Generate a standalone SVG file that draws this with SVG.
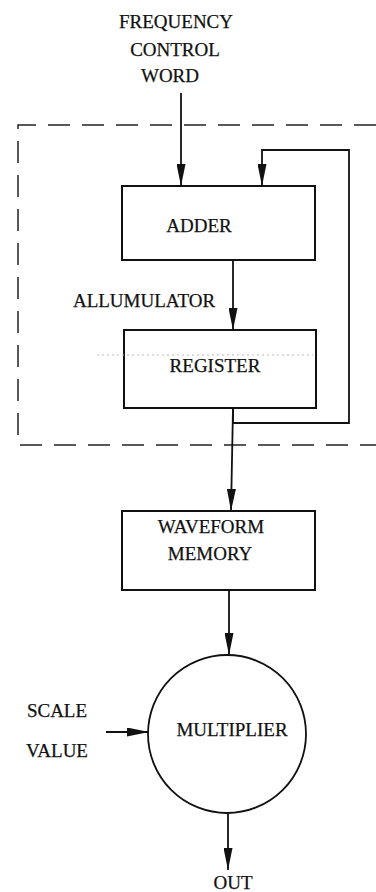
<svg xmlns="http://www.w3.org/2000/svg" width="376" height="892" viewBox="0 0 376 892">
<style>
text{font-family:"Liberation Serif","Times New Roman",serif;font-size:19px;fill:#111;text-anchor:middle;stroke:#111;stroke-width:0.25}
.box{fill:#fff;stroke:#111;stroke-width:2}
.ln{fill:none;stroke:#111;stroke-width:1.8}
.dash{fill:none;stroke:#222;stroke-width:1.5;stroke-dasharray:22 12}
</style>
<defs>
<marker id="ah" viewBox="0 0 22 9" refX="22" refY="4.5" markerWidth="22" markerHeight="9" markerUnits="userSpaceOnUse" orient="auto">
<path d="M0,0 L22,4.5 L0,9 Z" fill="#111"/>
</marker>
</defs>
<g id="labels">
<text x="176" y="28">FREQUENCY</text>
<text x="175" y="56">CONTROL</text>
<text x="170" y="82">WORD</text>
<text x="144" y="307">ALLUMULATOR</text>
<text x="57" y="717">SCALE</text>
<text x="57" y="757">VALUE</text>
<text x="233" y="889">OUT</text>
</g>
<g id="accumulator-boundary">
<path class="dash" d="M376,125 H18 V445 H376"/>
</g>
<g id="connectors">
<line class="ln" x1="181" y1="93" x2="181" y2="186" marker-end="url(#ah)"/>
<path class="ln" d="M233,408 V423 H349 V150 H262 V186" marker-end="url(#ah)"/>
<line class="ln" x1="233" y1="260" x2="233" y2="330" marker-end="url(#ah)"/>
<line class="ln" x1="233" y1="408" x2="231" y2="511" marker-end="url(#ah)"/>
<line class="ln" x1="229" y1="590" x2="229" y2="655" marker-end="url(#ah)"/>
<line class="ln" x1="106" y1="732" x2="149" y2="732" marker-end="url(#ah)"/>
<line class="ln" x1="228" y1="813" x2="228" y2="870" marker-end="url(#ah)"/>
</g>
<g id="adder">
<rect class="box" x="122" y="186" width="193" height="74"/>
<text x="199" y="232">ADDER</text>
</g>
<g id="register">
<rect class="box" x="124" y="330" width="192" height="78"/>
<line x1="97" y1="355" x2="313" y2="355" stroke="#bbb" stroke-width="1" stroke-dasharray="2 3"/>
<text x="215" y="372">REGISTER</text>
</g>
<g id="waveform-memory">
<rect class="box" x="122" y="511" width="193" height="79"/>
<text x="211" y="533">WAVEFORM</text>
<text x="210" y="560">MEMORY</text>
</g>
<g id="multiplier">
<circle cx="227" cy="734" r="79" fill="#fff" stroke="#111" stroke-width="1.8"/>
<text x="232" y="736">MULTIPLIER</text>
</g>
</svg>
